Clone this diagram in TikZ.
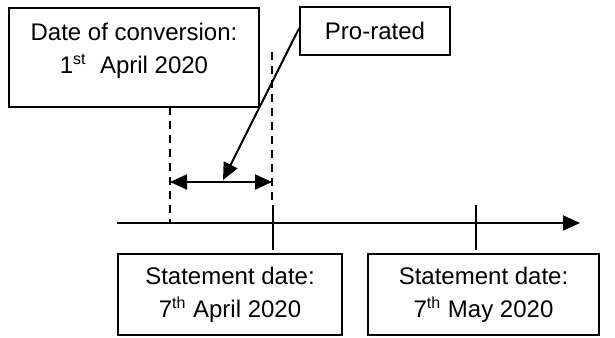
\documentclass[tikz,border=0pt]{standalone}
\usepackage{fontspec}
\setmainfont{Liberation Sans}
\usetikzlibrary{arrows.meta}
\begin{document}
\begin{tikzpicture}[x=0.5pt,y=-0.5pt,
    datebox/.style={rectangle,draw=black,line width=0.75pt,align=center,inner sep=0pt,
      font=\fontsize{12}{16.5}\selectfont},
    guide/.style={draw=black,line width=0.6pt,dash pattern=on 4pt off 3pt},
    tip/.style={-{Triangle[length=8.5pt,width=7.5pt]},line width=1pt}]
  \useasboundingbox (0,0) rectangle (615,337);
  % boxes
  \node (conv) [datebox,minimum width=125pt,minimum height=49.5pt,text depth=9pt] at (134,57.5)
    {Date of conversion:\\1\textsuperscript{st}\ \ April 2020};
  \node (prorated) [datebox,minimum width=75pt,minimum height=24pt] at (375,31) {Pro-rated};
  \node (stmtA) [datebox,minimum width=112pt,minimum height=40.5pt] at (230,294.5)
    {Statement date:\\7\textsuperscript{th} April 2020};
  \node (stmtB) [datebox,minimum width=115.5pt,minimum height=40.5pt] at (483.5,294.5)
    {Statement date:\\7\textsuperscript{th} May 2020};
  % time line
  \coordinate (axisL) at (117,223);
  \coordinate (axisR) at (580,223);
  \draw [tip] (axisL) -- (axisR);
  \foreach \x in {273,476}{
    \draw [line width=0.75pt] (\x,205) -- (\x,250);
  }
  % pro-rated span
  \coordinate (dashLt) at (170,107);
  \coordinate (dashLb) at (170,222);
  \coordinate (dashRt) at (272,52);
  \coordinate (dashRb) at (272,203);
  \draw [guide] (dashLt) -- (dashLb);
  \draw [guide] (dashRt) -- (dashRb);
  \coordinate (spanL) at (170,182);
  \coordinate (spanR) at (272,182);
  \coordinate (spanM) at (223,180);
  \draw [tip,{Triangle[length=8.5pt,width=7.5pt]}-{Triangle[length=8.5pt,width=7.5pt]}] (spanL) -- (spanR);
  \draw [tip] ([yshift=1.5pt]prorated.west) -- (spanM);
\end{tikzpicture}
\end{document}
